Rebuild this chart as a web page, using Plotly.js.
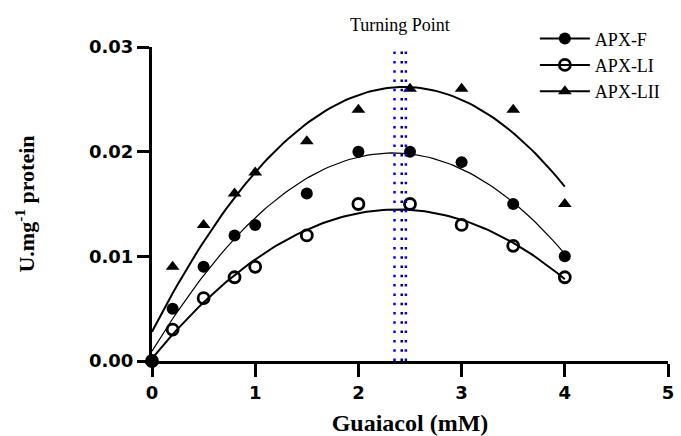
<!DOCTYPE html>
<html><head><meta charset="utf-8">
<script src="https://cdn.plot.ly/plotly-3.0.1.min.js"></script>
<style>html,body{margin:0;padding:0;background:#fff}#chart{width:681px;height:436px}</style>
</head><body><div id="chart"></div>
<script>
// ---- data ----
const guaiacol = [0, 0.2, 0.5, 0.8, 1, 1.5, 2, 2.5, 3, 3.5, 4];
const apxF   = [0, 0.005, 0.009, 0.012, 0.013, 0.016, 0.020, 0.020, 0.019, 0.015, 0.010];
const apxLI  = [0, 0.003, 0.006, 0.008, 0.009, 0.012, 0.015, 0.015, 0.013, 0.011, 0.008];
const apxLII = [0, 0.009, 0.013, 0.016, 0.018, 0.021, 0.024, 0.026, 0.026, 0.024, 0.015];
const seriesNames = ['APX-F', 'APX-LI', 'APX-LII'];
const turningPoints = [2.35, 2.42, 2.46];
const turningLabel = 'Turning Point';
const xTicks = [0, 1, 2, 3, 4, 5];
const yTicks = [0, 0.01, 0.02, 0.03];

// least-squares quadratic fit of a series
function quadFit(x, y) {
  const S = [0,0,0,0,0], T = [0,0,0];
  for (let i = 0; i < x.length; i++) {
    for (let k = 0; k < 5; k++) S[k] += Math.pow(x[i], k);
    for (let k = 0; k < 3; k++) T[k] += y[i] * Math.pow(x[i], k);
  }
  const M = [[S[0],S[1],S[2]],[S[1],S[2],S[3]],[S[2],S[3],S[4]]];
  const det = m => m[0][0]*(m[1][1]*m[2][2]-m[1][2]*m[2][1]) - m[0][1]*(m[1][0]*m[2][2]-m[1][2]*m[2][0]) + m[0][2]*(m[1][0]*m[2][1]-m[1][1]*m[2][0]);
  const D = det(M);
  const c = [0,1,2].map(j => det(M.map((row, r) => row.map((v, col) => col === j ? T[r] : v))) / D);
  return xx => c[0] + c[1]*xx + c[2]*xx*xx;
}

const xMax = Math.max(...guaiacol);
const curveX = [];
for (let i = 0; i <= 100; i++) curveX.push(xMax * i / 100);

const series = [
  {name: seriesNames[0], y: apxF,   symbol: 'circle',      size: 12, lw: 1.2, mline: 0},
  {name: seriesNames[1], y: apxLI,  symbol: 'circle-open', size: 11, lw: 2,   mline: 2.8},
  {name: seriesNames[2], y: apxLII, symbol: 'triangle-up', size: 12, lw: 2,   mline: 0}
];

const traces = [];
series.forEach(s => {
  const f = quadFit(guaiacol, s.y);
  traces.push({
    x: curveX, y: curveX.map(f), mode: 'lines', showlegend: false, hoverinfo: 'skip',
    line: {color: '#000', width: s.lw}, cliponaxis: false
  });
});
series.forEach(s => {
  // isolated points (null-separated) so the legend shows line + marker while no line joins the points
  const px = [], py = [];
  guaiacol.forEach((v, i) => { px.push(v, null); py.push(s.y[i], null); });
  traces.push({
    x: px, y: py, name: s.name, mode: 'lines+markers', connectgaps: false, cliponaxis: false,
    line: {color: '#000', width: 2},
    marker: {symbol: s.symbol, size: s.size, color: '#000', line: {color: '#000', width: s.mline}}
  });
});

const lineColors = ['#0000ff', '#000066', '#0000ff'];
const shapes = turningPoints.map((tx, i) => ({
  type: 'line', xref: 'x', yref: 'y', x0: tx, x1: tx, y0: 0, y1: 0.0312,
  line: {color: lineColors[i], width: 2.5, dash: '2.5px,6.8px'}
}));

const tickFont = {family: 'DejaVu Sans', size: 18, color: '#000', weight: 'bold'};
const layout = {
  width: 681, height: 436,
  margin: {l: 152, r: 13, t: 47, b: 75},
  paper_bgcolor: '#fff', plot_bgcolor: '#fff',
  showlegend: true,
  legend: {
    x: 0.742, y: 1.085, xanchor: 'left', yanchor: 'top',
    font: {family: 'Liberation Serif', size: 18, color: '#000'},
    bgcolor: 'rgba(0,0,0,0)', itemwidth: 50, tracegroupgap: 0
  },
  xaxis: {
    range: [0, 5], tickvals: xTicks, ticktext: xTicks.map(String),
    showline: true, linecolor: '#000', linewidth: 3, ticks: 'outside', ticklen: 13, tickwidth: 3, tickcolor: '#000',
    showgrid: false, zeroline: false, tickfont: tickFont, ticklabelstandoff: 0,
    title: {text: 'Guaiacol (mM)', font: {family: 'Liberation Serif', size: 24, color: '#000', weight: 'bold'}, standoff: 14}
  },
  yaxis: {
    range: [0, 0.03], tickvals: yTicks, ticktext: yTicks.map(v => v.toFixed(2)),
    showline: true, linecolor: '#000', linewidth: 3, ticks: 'outside', ticklen: 12, tickwidth: 3, tickcolor: '#000',
    showgrid: false, zeroline: false, tickfont: tickFont,
    title: {text: 'U.mg<sup>-1</sup> protein', font: {family: 'Liberation Serif', size: 22, color: '#000', weight: 'bold'}, standoff: 49}
  },
  shapes: shapes,
  annotations: [{
    text: turningLabel, xref: 'x', yref: 'paper', x: (turningPoints[0] + turningPoints[turningPoints.length-1]) / 2, y: 1.07,
    xanchor: 'center', yanchor: 'middle', showarrow: false,
    font: {family: 'Liberation Serif', size: 18, color: '#000'}
  }]
};

Plotly.newPlot('chart', traces, layout, {displayModeBar: false, staticPlot: true});
</script>
</body></html>
